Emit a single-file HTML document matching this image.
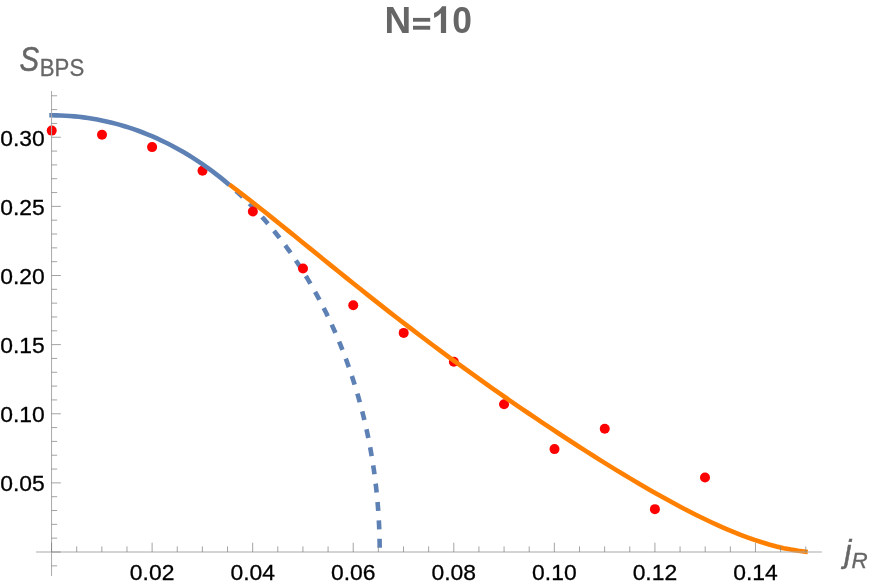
<!DOCTYPE html>
<html><head><meta charset="utf-8"><title>N=10</title>
<style>
html,body{margin:0;padding:0;background:#fff;}
body{width:872px;height:588px;overflow:hidden;}
svg{display:block;will-change:transform;font-family:"Liberation Sans",sans-serif;}
.tl text{font-size:22.8px;fill:#000;stroke:#000;stroke-width:0.3px;}
</style></head><body>
<svg width="872" height="588" viewBox="0 0 872 588">
<rect width="872" height="588" fill="#fff"/>
<path d="M229.40,184.98 L230.78,186.17 L232.16,187.37 L233.53,188.58 L234.90,189.80 L236.26,191.03 L237.62,192.27 L238.97,193.51 L240.32,194.77 L241.66,196.03 L243.00,197.31 L244.33,198.59 L245.66,199.88 L246.99,201.18 L248.31,202.49 L249.62,203.81 L250.93,205.13 L252.24,206.47 L253.54,207.81 L254.83,209.16 L256.12,210.52 L257.40,211.89 L258.68,213.27 L259.96,214.66 L261.23,216.05 L262.49,217.46 L263.75,218.87 L265.00,220.29 L266.25,221.72 L267.49,223.16 L268.73,224.60 L269.96,226.05 L271.18,227.52 L272.40,228.99 L273.62,230.46 L274.83,231.95 L276.03,233.44 L277.23,234.95 L278.42,236.46 L279.60,237.98 L280.78,239.50 L281.96,241.04 L283.13,242.58 L284.29,244.13 L285.45,245.68 L286.60,247.25 L287.74,248.82 L288.88,250.40 L290.02,251.99 L291.15,253.58 L292.27,255.19 L293.38,256.80 L294.49,258.42 L295.59,260.04 L296.69,261.67 L297.78,263.31 L298.87,264.96 L299.95,266.61 L301.02,268.28 L302.08,269.94 L303.14,271.62 L304.20,273.30 L305.24,274.99 L306.29,276.69 L307.32,278.39 L308.35,280.10 L309.37,281.82 L310.38,283.55 L311.39,285.28 L312.39,287.01 L313.39,288.76 L314.38,290.51 L315.36,292.27 L316.34,294.03 L317.30,295.80 L318.27,297.58 L319.22,299.36 L320.17,301.15 L321.11,302.95 L322.05,304.75 L322.98,306.56 L323.90,308.37 L324.81,310.19 L325.72,312.02 L326.62,313.85 L327.51,315.69 L328.40,317.54 L329.28,319.39 L330.15,321.24 L331.02,323.11 L331.88,324.97 L332.73,326.85 L333.58,328.73 L334.41,330.61 L335.24,332.50 L336.07,334.40 L336.88,336.30 L337.69,338.21 L338.50,340.12 L339.29,342.04 L340.08,343.96 L340.86,345.89 L341.63,347.83 L342.40,349.76 L343.16,351.71 L343.91,353.66 L344.65,355.61 L345.39,357.57 L346.12,359.53 L346.84,361.50 L347.55,363.47 L348.26,365.45 L348.96,367.44 L349.65,369.42 L350.33,371.41 L351.01,373.41 L351.68,375.41 L352.34,377.42 L352.99,379.43 L353.64,381.44 L354.28,383.46 L354.91,385.48 L355.53,387.51 L356.15,389.54 L356.76,391.58 L357.36,393.61 L357.95,395.66 L358.54,397.70 L359.12,399.76 L359.69,401.81 L360.25,403.87 L360.80,405.93 L361.35,408.00 L361.89,410.07 L362.42,412.14 L362.94,414.22 L363.46,416.30 L363.96,418.38 L364.46,420.47 L364.96,422.56 L365.44,424.65 L365.92,426.75 L366.38,428.85 L366.84,430.95 L367.30,433.06 L367.74,435.17 L368.18,437.28 L368.60,439.39 L369.02,441.51 L369.44,443.63 L369.84,445.75 L370.24,447.88 L370.63,450.01 L371.01,452.14 L371.38,454.27 L371.74,456.41 L372.10,458.55 L372.45,460.69 L372.79,462.83 L373.12,464.98 L373.44,467.12 L373.76,469.27 L374.07,471.42 L374.37,473.58 L374.66,475.73 L374.94,477.89 L375.22,480.05 L375.48,482.21 L375.74,484.37 L375.99,486.54 L376.24,488.71 L376.47,490.87 L376.70,493.04 L376.91,495.21 L377.12,497.39 L377.33,499.56 L377.52,501.74 L377.70,503.91 L377.88,506.09 L378.05,508.27 L378.21,510.45 L378.36,512.63 L378.51,514.81 L378.64,516.99 L378.77,519.18 L378.89,521.36 L379.00,523.55 L379.11,525.73 L379.20,527.92 L379.29,530.11 L379.37,532.29 L379.44,534.48 L379.50,536.67 L379.55,538.86 L379.60,541.05 L379.63,543.24 L379.66,545.43 L379.68,547.62 L379.70,549.81 L379.70,552.00" fill="none" stroke="#5e81b5" stroke-width="4.6" stroke-dasharray="9 9.4" stroke-dashoffset="9.5"/>
<g fill="#ff0000">
<circle cx="51.7" cy="130.6" r="5"/><circle cx="102" cy="134.7" r="5"/><circle cx="152.1" cy="147.1" r="5"/><circle cx="202.5" cy="170.8" r="5"/><circle cx="252.85" cy="211.5" r="5"/><circle cx="303" cy="268.5" r="5"/><circle cx="353.25" cy="305.25" r="5"/><circle cx="403.7" cy="332.9" r="5"/><circle cx="453.85" cy="361.7" r="5"/><circle cx="504.05" cy="404.25" r="5"/><circle cx="554.5" cy="449.1" r="5"/><circle cx="604.75" cy="428.75" r="5"/><circle cx="654.9" cy="509.15" r="5"/><circle cx="705" cy="477.5" r="5"/>
</g>
<path d="M49.3,115.30 L51.60,115.30 L56.16,115.34 L60.72,115.47 L65.28,115.68 L69.84,115.98 L74.39,116.36 L78.95,116.82 L83.51,117.37 L88.07,118.01 L92.63,118.73 L97.19,119.54 L101.75,120.43 L106.31,121.41 L110.87,122.48 L115.43,123.64 L119.98,124.89 L124.54,126.23 L129.10,127.66 L133.66,129.18 L138.22,130.79 L142.78,132.50 L147.34,134.31 L151.90,136.20 L156.46,138.20 L161.02,140.30 L165.57,142.50 L170.13,144.79 L174.69,147.20 L179.25,149.71 L183.81,152.32 L188.37,155.05 L192.93,157.89 L197.49,160.84 L202.05,163.92 L206.61,167.11 L211.16,170.42 L215.72,173.86 L220.28,177.43 L224.84,181.14 L229.40,184.98" fill="none" stroke="#5e81b5" stroke-width="4.6" stroke-linecap="butt" stroke-linejoin="round"/>
<path d="M229.40,184.50 L236.69,190.02 L243.99,195.62 L251.28,201.30 L258.57,207.04 L265.87,212.82 L273.16,218.65 L280.46,224.51 L287.75,230.40 L295.04,236.30 L302.34,242.22 L309.63,248.14 L316.92,254.06 L324.22,259.98 L331.51,265.89 L338.81,271.78 L346.10,277.65 L353.39,283.50 L360.69,289.32 L367.98,295.12 L375.27,300.88 L382.57,306.62 L389.86,312.32 L397.15,317.98 L404.45,323.60 L411.74,329.19 L419.04,334.74 L426.33,340.25 L433.62,345.72 L440.92,351.15 L448.21,356.54 L455.50,361.89 L462.80,367.21 L470.09,372.48 L477.38,377.71 L484.68,382.90 L491.97,388.06 L499.27,393.17 L506.56,398.25 L513.85,403.29 L521.15,408.30 L528.44,413.26 L535.73,418.19 L543.03,423.08 L550.32,427.94 L557.62,432.76 L564.91,437.54 L572.20,442.28 L579.50,446.98 L586.79,451.64 L594.08,456.26 L601.38,460.84 L608.67,465.36 L615.96,469.85 L623.26,474.28 L630.55,478.65 L637.85,482.98 L645.14,487.24 L652.43,491.43 L659.73,495.56 L667.02,499.61 L674.31,503.58 L681.61,507.46 L688.90,511.26 L696.19,514.95 L703.49,518.54 L710.78,522.01 L718.08,525.36 L725.37,528.57 L732.66,531.64 L739.96,534.56 L747.25,537.31 L754.54,539.88 L761.84,542.27 L769.13,544.45 L776.43,546.41 L783.72,548.14 L791.01,549.62 L798.31,550.83 L805.60,551.77 L807.78,552.05" fill="none" stroke="#ff8000" stroke-width="4.6" stroke-linecap="butt" stroke-linejoin="round"/>
<g stroke="#a9a9a9" stroke-width="1" fill="none">
<line x1="36" y1="552" x2="821.8" y2="552"/><line x1="51.55" y1="91" x2="51.55" y2="576"/>
</g>
<g stroke="#7d7d7d" stroke-width="0.7" fill="none">
<line x1="51.55" y1="552" x2="51.55" y2="542.70"/><line x1="76.69" y1="552" x2="76.69" y2="546.40"/><line x1="101.83" y1="552" x2="101.83" y2="546.40"/><line x1="126.97" y1="552" x2="126.97" y2="546.40"/><line x1="152.11" y1="552" x2="152.11" y2="542.70"/><line x1="177.25" y1="552" x2="177.25" y2="546.40"/><line x1="202.39" y1="552" x2="202.39" y2="546.40"/><line x1="227.53" y1="552" x2="227.53" y2="546.40"/><line x1="252.67" y1="552" x2="252.67" y2="542.70"/><line x1="277.81" y1="552" x2="277.81" y2="546.40"/><line x1="302.95" y1="552" x2="302.95" y2="546.40"/><line x1="328.09" y1="552" x2="328.09" y2="546.40"/><line x1="353.23" y1="552" x2="353.23" y2="542.70"/><line x1="378.37" y1="552" x2="378.37" y2="546.40"/><line x1="403.51" y1="552" x2="403.51" y2="546.40"/><line x1="428.65" y1="552" x2="428.65" y2="546.40"/><line x1="453.79" y1="552" x2="453.79" y2="542.70"/><line x1="478.93" y1="552" x2="478.93" y2="546.40"/><line x1="504.07" y1="552" x2="504.07" y2="546.40"/><line x1="529.21" y1="552" x2="529.21" y2="546.40"/><line x1="554.35" y1="552" x2="554.35" y2="542.70"/><line x1="579.49" y1="552" x2="579.49" y2="546.40"/><line x1="604.63" y1="552" x2="604.63" y2="546.40"/><line x1="629.77" y1="552" x2="629.77" y2="546.40"/><line x1="654.91" y1="552" x2="654.91" y2="542.70"/><line x1="680.05" y1="552" x2="680.05" y2="546.40"/><line x1="705.19" y1="552" x2="705.19" y2="546.40"/><line x1="730.33" y1="552" x2="730.33" y2="546.40"/><line x1="755.47" y1="552" x2="755.47" y2="542.70"/><line x1="780.61" y1="552" x2="780.61" y2="546.40"/><line x1="805.75" y1="552" x2="805.75" y2="546.40"/><line x1="51.55" y1="565.83" x2="57.15" y2="565.83"/><line x1="51.55" y1="552.00" x2="60.85" y2="552.00"/><line x1="51.55" y1="538.17" x2="57.15" y2="538.17"/><line x1="51.55" y1="524.35" x2="57.15" y2="524.35"/><line x1="51.55" y1="510.52" x2="57.15" y2="510.52"/><line x1="51.55" y1="496.70" x2="57.15" y2="496.70"/><line x1="51.55" y1="482.88" x2="60.85" y2="482.88"/><line x1="51.55" y1="469.05" x2="57.15" y2="469.05"/><line x1="51.55" y1="455.23" x2="57.15" y2="455.23"/><line x1="51.55" y1="441.40" x2="57.15" y2="441.40"/><line x1="51.55" y1="427.57" x2="57.15" y2="427.57"/><line x1="51.55" y1="413.75" x2="60.85" y2="413.75"/><line x1="51.55" y1="399.93" x2="57.15" y2="399.93"/><line x1="51.55" y1="386.10" x2="57.15" y2="386.10"/><line x1="51.55" y1="372.27" x2="57.15" y2="372.27"/><line x1="51.55" y1="358.45" x2="57.15" y2="358.45"/><line x1="51.55" y1="344.62" x2="60.85" y2="344.62"/><line x1="51.55" y1="330.80" x2="57.15" y2="330.80"/><line x1="51.55" y1="316.98" x2="57.15" y2="316.98"/><line x1="51.55" y1="303.15" x2="57.15" y2="303.15"/><line x1="51.55" y1="289.32" x2="57.15" y2="289.32"/><line x1="51.55" y1="275.50" x2="60.85" y2="275.50"/><line x1="51.55" y1="261.68" x2="57.15" y2="261.68"/><line x1="51.55" y1="247.85" x2="57.15" y2="247.85"/><line x1="51.55" y1="234.02" x2="57.15" y2="234.02"/><line x1="51.55" y1="220.20" x2="57.15" y2="220.20"/><line x1="51.55" y1="206.38" x2="60.85" y2="206.38"/><line x1="51.55" y1="192.55" x2="57.15" y2="192.55"/><line x1="51.55" y1="178.72" x2="57.15" y2="178.72"/><line x1="51.55" y1="164.90" x2="57.15" y2="164.90"/><line x1="51.55" y1="151.08" x2="57.15" y2="151.08"/><line x1="51.55" y1="137.25" x2="60.85" y2="137.25"/><line x1="51.55" y1="123.43" x2="57.15" y2="123.43"/><line x1="51.55" y1="109.60" x2="57.15" y2="109.60"/><line x1="51.55" y1="95.77" x2="57.15" y2="95.77"/>
</g>
<g class="tl">
<text transform="translate(152.11,579.7) scale(1.003,1)" text-anchor="middle">0.02</text><text transform="translate(252.67,579.7) scale(1.003,1)" text-anchor="middle">0.04</text><text transform="translate(353.23,579.7) scale(1.003,1)" text-anchor="middle">0.06</text><text transform="translate(453.79,579.7) scale(1.003,1)" text-anchor="middle">0.08</text><text transform="translate(554.35,579.7) scale(1.003,1)" text-anchor="middle">0.10</text><text transform="translate(654.91,579.7) scale(1.003,1)" text-anchor="middle">0.12</text><text transform="translate(755.47,579.7) scale(1.003,1)" text-anchor="middle">0.14</text>
<text transform="translate(44.7,491.27) scale(1.003,1)" text-anchor="end">0.05</text><text transform="translate(44.7,422.15) scale(1.003,1)" text-anchor="end">0.10</text><text transform="translate(44.7,353.02) scale(1.003,1)" text-anchor="end">0.15</text><text transform="translate(44.7,283.90) scale(1.003,1)" text-anchor="end">0.20</text><text transform="translate(44.7,214.78) scale(1.003,1)" text-anchor="end">0.25</text><text transform="translate(44.7,145.65) scale(1.003,1)" text-anchor="end">0.30</text>
</g>
<g fill="#666">
<text transform="translate(384.4,32.9) scale(0.985,1)" font-size="37.5" font-weight="bold">N</text>
<rect x="413" y="17.9" width="17.2" height="3.8"/><rect x="413" y="25.8" width="17.2" height="3.9"/>
<path d="M446.1,6.2 L442.1,6.2 Q439.5,10.6 434,13.1 L434.2,17.9 Q438.2,16.2 440.9,13.2 L440.9,32.9 L446.1,32.9 Z"/>
<text transform="translate(452.3,33) scale(0.945,1)" font-size="37.5" font-weight="bold">0</text>
</g>
<text transform="translate(19.5,70.8) scale(0.85,1)" font-size="34.6" font-style="italic" fill="#666" stroke="#666" stroke-width="0.5">S</text>
<text transform="translate(39.8,75.8) scale(0.94,1)" font-size="23.6" fill="#666" stroke="#666" stroke-width="0.3">BPS</text>
<text x="844.4" y="562.1" font-size="30.9" font-style="italic" fill="#666" stroke="#666" stroke-width="0.5">j</text>
<text x="851.6" y="568.4" font-size="22.4" font-style="italic" fill="#666" stroke="#666" stroke-width="0.3">R</text>
</svg>
</body></html>
